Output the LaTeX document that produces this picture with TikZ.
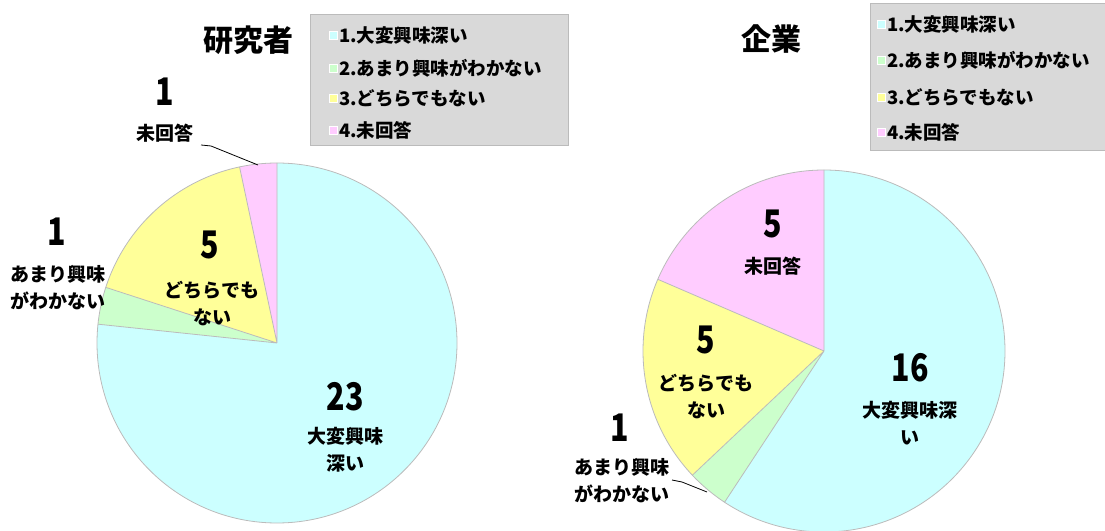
\documentclass[tikz,border=0pt]{standalone}
\usepackage{fontspec}
\setmainfont{Noto Sans CJK JP}
\definecolor{cA}{HTML}{CCFFFF}
\definecolor{cB}{HTML}{CCFFCC}
\definecolor{cC}{HTML}{FFFF99}
\definecolor{cD}{HTML}{FFCCFF}
\definecolor{legbg}{HTML}{D9D9D9}
\definecolor{edge}{HTML}{BBBBBB}
\tikzset{
  slice/.style={draw=edge, line width=0.8pt},
  title/.style={font=\fontsize{30}{32}\selectfont\bfseries, inner sep=0pt},
  num/.style={font=\fontsize{38}{40}\selectfont\bfseries, inner sep=0pt, xscale=0.8},
  lab/.style={font=\fontsize{19}{27}\selectfont\bfseries, inner sep=0pt, align=center},
  leg/.style={font=\fontsize{18.5}{20}\selectfont\bfseries, inner sep=0pt, anchor=west},
  legbox/.style={fill=legbg, draw=edge, line width=0.8pt},
  sq/.style={minimum size=8pt, inner sep=0pt, draw=white, line width=0.5pt},
  leader/.style={draw=black, line width=0.8pt}
}
\begin{document}
\begin{tikzpicture}[x=1pt,y=1pt]
\useasboundingbox (0,0) rectangle (1105,530);
% ---------- left pie ----------
\coordinate (L) at (277,187);
\fill[cA] (L) -- ++(90:180) arc[start angle=90, end angle=-186, radius=180] -- cycle;
\fill[cB] (L) -- ++(174:180) arc[start angle=174, end angle=162, radius=180] -- cycle;
\fill[cC] (L) -- ++(162:180) arc[start angle=162, end angle=102, radius=180] -- cycle;
\fill[cD] (L) -- ++(102:180) arc[start angle=102, end angle=90, radius=180] -- cycle;
\draw[slice] (L) circle[radius=180];
\draw[slice] (L) -- ++(90:180) (L) -- ++(174:180) (L) -- ++(162:180) (L) -- ++(102:180);
% ---------- right pie ----------
\coordinate (R) at (824,179);
\fill[cA] (R) -- ++(90:181) arc[start angle=90, end angle=-123.33, radius=181] -- cycle;
\fill[cB] (R) -- ++(236.67:181) arc[start angle=236.67, end angle=223.33, radius=181] -- cycle;
\fill[cC] (R) -- ++(223.33:181) arc[start angle=223.33, end angle=156.67, radius=181] -- cycle;
\fill[cD] (R) -- ++(156.67:181) arc[start angle=156.67, end angle=90, radius=181] -- cycle;
\draw[slice] (R) circle[radius=181];
\draw[slice] (R) -- ++(90:181) (R) -- ++(236.67:181) (R) -- ++(223.33:181) (R) -- ++(156.67:181);
% ---------- titles ----------
\node[title] (t1) at (248,490) {研究者};
\node[title] (t2) at (771,491) {企業};
% ---------- legends ----------
\node[legbox, minimum width=258pt, minimum height=131pt, inner sep=0pt] (lg1) at (439,450.5) {};
\node[legbox, minimum width=240pt, minimum height=147pt, inner sep=0pt] (lg2) at (990,453.5) {};
\foreach \y/\c/\t [count=\i] in {495/cA/1.大変興味深い, 462/cB/2.あまり興味がわかない, 432/cC/3.どちらでもない, 400/cD/4.未回答}{
  \node[sq, fill=\c] (la\i) at (333,\y) {};
  \node[leg] (lt\i) at (339,\y) {\t};
}
\foreach \y/\c/\t [count=\i] in {506/cA/1.大変興味深い, 470/cB/2.あまり興味がわかない, 433/cC/3.どちらでもない, 398/cD/4.未回答}{
  \node[sq, fill=\c] (ra\i) at (881,\y) {};
  \node[leg] (rt\i) at (887,\y) {\t};
}
% ---------- left labels ----------
\node[num] (n23) at (345,133) {23};
\node[lab] (l23) at (345,80) {大変興味\\深い};
\node[num] (n5a) at (210,285) {5};
\node[lab] (l5a) at (212,226) {どちらでも\\ない};
\node[num] (n1a) at (57,298) {1};
\node[lab] (l1a) at (58,242) {あまり興味\\がわかない};
\node[num] (n1b) at (165,438) {1};
\node[lab] (l1b) at (165,397) {未回答};
\coordinate (p1) at (201,385);
\coordinate (p2) at (211,384);
\coordinate (p3) at (258,365);
\draw[leader] (p1) -- (p2) -- (p3);
% ---------- right labels ----------
\node[num] (n16) at (910,162) {16};
\node[lab] (l16) at (910,107) {大変興味深\\い};
\node[num] (n5b) at (706,190) {5};
\node[lab] (l5b) at (706,133) {どちらでも\\ない};
\node[num] (n5c) at (773,306) {5};
\node[lab] (l5c) at (773,264) {未回答};
\node[num] (n1c) at (620,102) {1};
\node[lab] (l1c) at (622,49) {あまり興味\\がわかない};
\coordinate (q1) at (672,50);
\coordinate (q2) at (682,48);
\coordinate (q3) at (707,38);
\draw[leader] (q1) -- (q2) -- (q3);
\end{tikzpicture}
\end{document}
